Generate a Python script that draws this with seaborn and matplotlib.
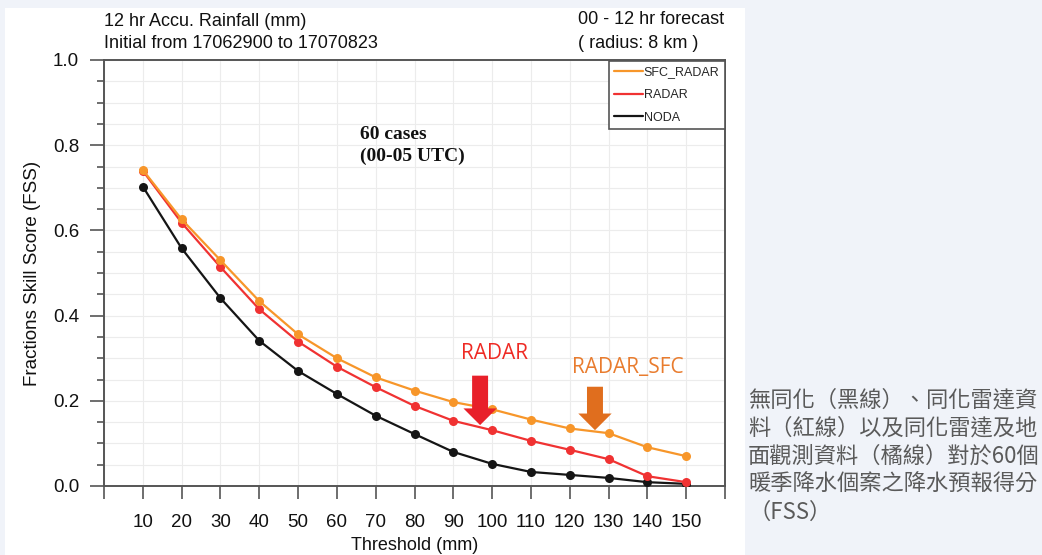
import numpy as np
import pandas as pd
import seaborn as sns
import matplotlib
matplotlib.use("Agg")
import matplotlib.pyplot as plt
from matplotlib.lines import Line2D
from matplotlib.patches import Rectangle

# ---------------- data ----------------
thresholds = [10, 20, 30, 40, 50, 60, 70, 80, 90, 100, 110, 120, 130, 140, 150]
sfc_radar = [0.742, 0.626, 0.530, 0.434, 0.356, 0.300, 0.255, 0.224, 0.197, 0.180,
             0.156, 0.135, 0.124, 0.091, 0.070]
radar = [0.740, 0.618, 0.514, 0.415, 0.339, 0.280, 0.232, 0.188, 0.153, 0.131,
         0.106, 0.085, 0.063, 0.023, 0.009]
noda = [0.703, 0.558, 0.441, 0.341, 0.270, 0.216, 0.165, 0.122, 0.080, 0.052,
        0.033, 0.026, 0.019, 0.009, 0.005]
series_names = ["SFC_RADAR", "RADAR", "NODA"]
series_colors = ["#f7962a", "#f03232", "#151515"]
x_tick_labels = ["", "10", "20", "30", "40", "50", "60", "70", "80", "90", "100",
                 "110", "120", "130", "140", "150", ""]
y_tick_labels = ["0.0", "0.2", "0.4", "0.6", "0.8", "1.0"]

df = pd.DataFrame({
    "Threshold": thresholds * 3,
    "FSS": sfc_radar + radar + noda,
    "Experiment": [n for n in series_names for _ in thresholds],
})

# ---------------- figure ----------------
sns.set_theme(style="white")
plt.rcParams["font.family"] = ["Liberation Sans", "DejaVu Sans"]

W, H = 1042, 555
fig = plt.figure(figsize=(W / 100, H / 100), dpi=100, facecolor="#f0f3f9")
fig.patches.append(Rectangle((5 / W, 0), 740 / W, 1 - 8 / H, transform=fig.transFigure,
                             facecolor="white", edgecolor="none", zorder=-10))

ax_l, ax_r, ax_t, ax_b = 104, 725, 60, 486
ax = fig.add_axes([ax_l / W, 1 - ax_b / H, (ax_r - ax_l) / W, (ax_b - ax_t) / H])
ax.set_facecolor("white")

palette = dict(zip(series_names, series_colors))
sns.lineplot(data=df, x="Threshold", y="FSS", hue="Experiment", hue_order=series_names[::-1],
             palette=palette, marker="o", markersize=6.5, markeredgewidth=0,
             linewidth=1.6, ax=ax, legend=False, zorder=3)

ax.set_xlim(0, 160)
ax.set_ylim(0, 1.0)
ax.set_xticks(np.arange(0, 161, 10))
ax.set_xticklabels(x_tick_labels)
ax.set_yticks(np.arange(0, 1.01, 0.2))
ax.set_yticklabels(y_tick_labels)
ax.set_yticks(np.arange(0, 1.001, 0.05), minor=True)

ax.grid(True, which="both", color="#ececec", linewidth=0.8, zorder=0)
ax.set_axisbelow(True)
for s in ax.spines.values():
    s.set_color("#555555")
    s.set_linewidth(1.4)

ax.tick_params(axis="x", which="major", direction="out", length=9, width=1.2,
               color="#555555", labelsize=13.5, pad=11, labelcolor="#111111", bottom=True)
ax.tick_params(axis="y", which="major", direction="out", length=10, width=1.2,
               color="#555555", labelsize=13.5, pad=8, labelcolor="#111111", left=True)
ax.tick_params(axis="y", which="minor", direction="out", length=5, width=1.2,
               color="#555555", left=True)

ax.set_xlabel("Threshold (mm)", fontsize=13, color="#111111")
ax.xaxis.label.set_va("center")
ax.xaxis.set_label_coords(0.5, (ax_b - 545) / (ax_b - ax_t))
ax.set_ylabel("Fractions Skill Score (FSS)", fontsize=13.5, color="#111111")
ax.yaxis.label.set_va("center")
ax.yaxis.set_label_coords((33 - ax_l) / (ax_r - ax_l), 0.5)

# legend (lines only)
handles = [Line2D([], [], color=c, linewidth=1.6) for c in series_colors]
leg = ax.legend(handles, series_names, loc="upper right", bbox_to_anchor=(1.0, 0.998),
                borderaxespad=0, frameon=True, fancybox=False, fontsize=9,
                handlelength=2.3, handletextpad=0.05, labelspacing=0.85,
                borderpad=0.45, edgecolor="#555555", framealpha=1)
leg.get_frame().set_linewidth(1.2)

# titles
fig.text(ax_l / W, 1 - 22 / H, "12 hr Accu. Rainfall (mm)", fontsize=13,
         ha="left", va="center", color="#111111")
fig.text(ax_l / W, 1 - 43 / H, "Initial from 17062900 to 17070823", fontsize=13,
         ha="left", va="center", color="#111111")
fig.text(578 / W, 1 - 20 / H, "00 - 12 hr forecast", fontsize=13,
         ha="left", va="center", color="#111111")
fig.text(578 / W, 1 - 43 / H, "( radius: 8 km )", fontsize=13,
         ha="left", va="center", color="#111111")

# annotations inside plot
ax.text(66, 0.799, "60 cases\n(00-05 UTC)", fontsize=14, fontweight="bold",
        family=["Liberation Serif", "DejaVu Serif"], ha="left", va="center",
        linespacing=1.3, color="#111111")
ax.text(100.5, 0.31, "RADAR", fontsize=15, color="#ee2a24", ha="center", va="center",
        family=["Open Sans", "DejaVu Sans"])
ax.text(135.0, 0.277, "RADAR_SFC", fontsize=15, color="#e97c2e", ha="center", va="center",
        family=["Open Sans", "DejaVu Sans"])

arrow_style = "simple,head_length=1.2,head_width=2.4,tail_width=1.15"
ax.annotate("", xy=(96.9, 0.143), xytext=(96.9, 0.259),
            arrowprops=dict(arrowstyle=arrow_style, color="#e8202a", mutation_scale=10,
                            shrinkA=0, shrinkB=0, linewidth=0), zorder=5)
ax.annotate("", xy=(126.5, 0.131), xytext=(126.5, 0.233),
            arrowprops=dict(arrowstyle=arrow_style, color="#e06e1e", mutation_scale=10,
                            shrinkA=0, shrinkB=0, linewidth=0), zorder=5)

# right-side Chinese caption
caption_lines = ["無同化（黑線）、同化雷達資", "料（紅線）以及同化雷達及地",
                 "面觀測資料（橘線）對於60個", "暖季降水個案之降水預報得分", "（FSS）"]
for i, line in enumerate(caption_lines):
    fig.text(748 / W, 1 - (400 + 28 * i) / H, line, fontsize=16, ha="left", va="center",
             color="#5a5a5a", family=["Noto Sans CJK TC", "DejaVu Sans"])

fig.savefig("out.png", dpi=100, facecolor=fig.get_facecolor())
